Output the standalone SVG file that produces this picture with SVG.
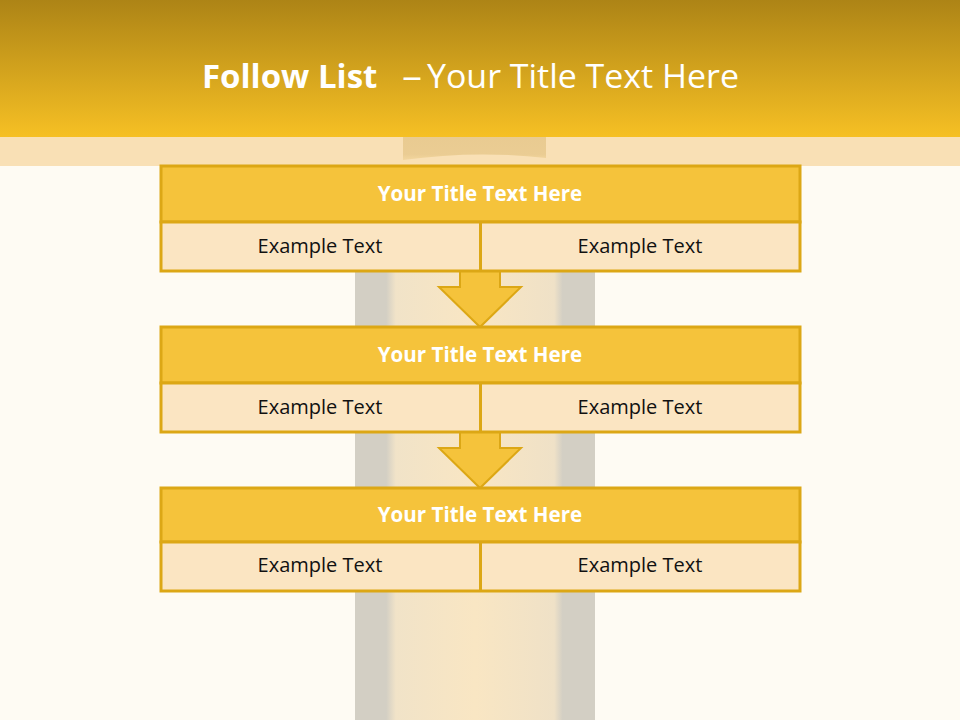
<svg xmlns="http://www.w3.org/2000/svg" width="960" height="720" viewBox="0 0 960 720">
  <defs>
    <linearGradient id="hdr" x1="0" y1="0" x2="0" y2="1">
      <stop offset="0" stop-color="#ad8416"/>
      <stop offset="1" stop-color="#f6c024"/>
    </linearGradient>
    <linearGradient id="col" x1="0" y1="0" x2="1" y2="0">
      <stop offset="0" stop-color="#d3cfc4"/>
      <stop offset="0.13" stop-color="#d3cfc4"/>
      <stop offset="0.17" stop-color="#f1e3c8"/>
      <stop offset="0.5" stop-color="#f9e6c3"/>
      <stop offset="0.83" stop-color="#efe1c7"/>
      <stop offset="0.865" stop-color="#d3cfc4"/>
      <stop offset="1" stop-color="#d3cfc4"/>
    </linearGradient>
    <linearGradient id="cap" x1="0" y1="0" x2="0" y2="1">
      <stop offset="0" stop-color="#e6c78b"/>
      <stop offset="0.75" stop-color="#e8c98d"/>
      <stop offset="1" stop-color="#f2d49a"/>
    </linearGradient>
    <style>
      .ttl { fill: #f5c33b; stroke: #dca715; stroke-width: 3; }
      .row { fill: #fbe5c2; stroke: #dca715; stroke-width: 3; }
      .div { stroke: #dca715; stroke-width: 3; }
      .arrow { fill: #f5c33b; stroke: #dca715; stroke-width: 2; stroke-linejoin: miter; }
      .bt { font-family: "Open Sans", "Liberation Sans", sans-serif; font-weight: bold; font-size: 20.6px; fill: #ffffff; text-anchor: middle; }
      .et { font-family: "Open Sans", "Liberation Sans", sans-serif; font-size: 20px; fill: #111111; text-anchor: middle; }
    </style>
  </defs>

  <rect x="0" y="0" width="960" height="720" fill="#fefbf3"/>
  <rect x="355" y="166" width="240" height="554" fill="url(#col)"/>
  <rect x="0" y="137" width="960" height="29" fill="#f9e0b5"/>
  <rect x="0" y="0" width="960" height="137" fill="url(#hdr)"/>
  <path d="M403 137 H546 V158 Q475 150 403 160 Z" fill="url(#cap)" opacity="0.85"/>

  <text y="88" font-family="Open Sans, Liberation Sans, sans-serif" font-size="33" fill="#ffffff"><tspan x="202" font-weight="bold">Follow List</tspan><tspan x="402" textLength="20" lengthAdjust="spacingAndGlyphs">–</tspan><tspan x="427" textLength="312" lengthAdjust="spacingAndGlyphs">Your Title Text Here</tspan></text>

  <g id="connectors">
    <polygon class="arrow" points="460,271 500,271 500,287 521,287 480,327 439,287 460,287"/>
    <polygon class="arrow" points="460,432 500,432 500,448 521,448 480,488 439,448 460,448"/>
  </g>

  <g id="box1">
    <rect class="ttl" x="161" y="166" width="639" height="56"/>
    <rect class="row" x="161" y="222" width="639" height="49"/>
    <line class="div" x1="480.5" y1="222" x2="480.5" y2="271"/>
    <text class="bt" x="480" y="201">Your Title Text Here</text>
    <text class="et" x="320" y="253">Example Text</text>
    <text class="et" x="640" y="253">Example Text</text>
  </g>

  <g id="box2">
    <rect class="ttl" x="161" y="327" width="639" height="56"/>
    <rect class="row" x="161" y="383" width="639" height="49"/>
    <line class="div" x1="480.5" y1="383" x2="480.5" y2="432"/>
    <text class="bt" x="480" y="362">Your Title Text Here</text>
    <text class="et" x="320" y="414">Example Text</text>
    <text class="et" x="640" y="414">Example Text</text>
  </g>

  <g id="box3">
    <rect class="ttl" x="161" y="488" width="639" height="54"/>
    <rect class="row" x="161" y="542" width="639" height="49"/>
    <line class="div" x1="480.5" y1="542" x2="480.5" y2="591"/>
    <text class="bt" x="480" y="522">Your Title Text Here</text>
    <text class="et" x="320" y="572">Example Text</text>
    <text class="et" x="640" y="572">Example Text</text>
  </g>
</svg>
